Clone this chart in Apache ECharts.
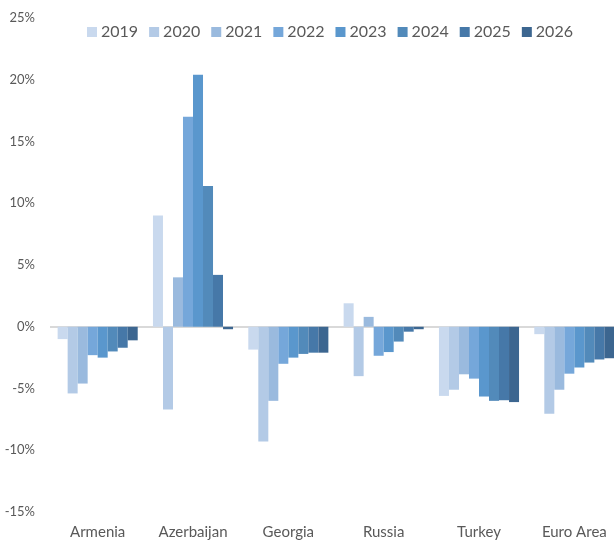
<!DOCTYPE html>
<html>
<head>
<meta charset="utf-8">
<script src="https://cdn.jsdelivr.net/npm/echarts@6/dist/echarts.min.js"></script>
<style>html,body{margin:0;padding:0;background:#fff;overflow:hidden}#c{width:614px;height:540px}</style>
</head>
<body>
<div id="c"></div>
<script>
const categories = ['Armenia', 'Azerbaijan', 'Georgia', 'Russia', 'Turkey', 'Euro Area'];
const years = ['2019', '2020', '2021', '2022', '2023', '2024', '2025', '2026'];
const colors = ['#c9d9ee', '#b3cae6', '#9abade', '#75a7da', '#5a97cd', '#528aba', '#4678a8', '#3c6690'];
const v2019 = [-1.0, 9.0, -1.85, 1.9, -5.6, -0.6];
const v2020 = [-5.4, -6.7, -9.3, -4.0, -5.1, -7.05];
const v2021 = [-4.6, 4.0, -6.0, 0.8, -3.85, -5.1];
const v2022 = [-2.3, 17.0, -3.0, -2.35, -4.2, -3.8];
const v2023 = [-2.5, 20.4, -2.5, -2.05, -5.65, -3.3];
const v2024 = [-2.0, 11.4, -2.2, -1.2, -6.0, -2.9];
const v2025 = [-1.7, 4.2, -2.1, -0.4, -5.95, -2.65];
const v2026 = [-1.1, -0.2, -2.1, -0.2, -6.1, -2.55];
const yTicks = [-15, -10, -5, 0, 5, 10, 15, 20, 25];
const values = [v2019, v2020, v2021, v2022, v2023, v2024, v2025, v2026];

const font = 'Lato, "Open Sans", sans-serif';
const chart = echarts.init(document.getElementById('c'));
const series = years.map((y, i) => {
  const s = {
    name: y,
    type: 'bar',
    data: values[i],
    barGap: '0%',
    barCategoryGap: '16%',
    itemStyle: { color: colors[i] },
    z: 3
  };
  if (i === 0) {
    s.markLine = {
      silent: true,
      symbol: ['none', 'none'],
      label: { show: false },
      lineStyle: { color: '#d9d9d9', width: 2, type: 'solid' },
      data: [{ yAxis: 0 }],
      z: 1
    };
  }
  return s;
});

chart.setOption({
  animation: false,
  color: colors,
  legend: {
    data: years,
    left: 82,
    top: 19,
    itemWidth: 10,
    itemHeight: 10,
    itemGap: 11,
    icon: 'rect',
    textStyle: { fontFamily: font, fontSize: 16, color: '#595959', padding: [0, 0, 0, -1] }
  },
  grid: { left: 50, width: 572, top: 18, bottom: 28, containLabel: false, outerBoundsMode: 'none' },
  xAxis: {
    type: 'category',
    data: categories,
    axisLine: { show: false },
    axisTick: { show: false },
    axisLabel: { fontFamily: font, fontSize: 15, color: '#595959', margin: 13 }
  },
  yAxis: {
    type: 'value',
    min: yTicks[0],
    max: yTicks[yTicks.length - 1],
    interval: 5,
    splitLine: { show: false },
    axisLine: { show: false },
    axisTick: { show: false },
    axisLabel: { fontFamily: font, fontSize: 13, color: '#595959', margin: 15, formatter: v => v + '%' }
  },
  series: series
});
</script>
</body>
</html>
